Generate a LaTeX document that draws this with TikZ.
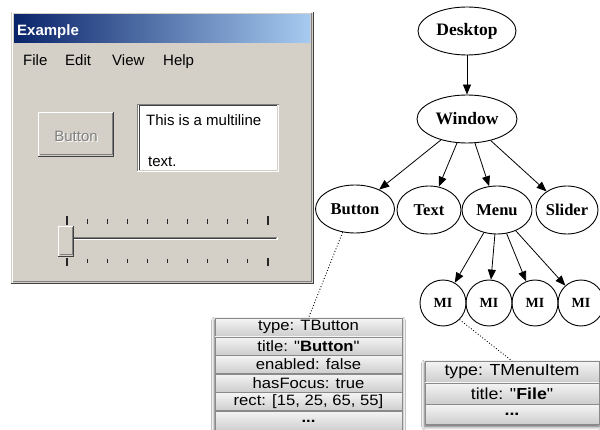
\documentclass[tikz,border=0pt]{standalone}
\usepackage{fontspec}
\usetikzlibrary{arrows.meta,shapes.geometric,shadows.blur,backgrounds}
\newfontfamily\guifont{Liberation Sans}
\newfontfamily\treefont{Liberation Serif}
\newfontfamily\tblfont[FakeStretch=1.11,Ligatures=TeXOff]{Liberation Sans}
\definecolor{winbg}{HTML}{D4D0C8}
\definecolor{edgedark}{HTML}{404040}
\definecolor{edgemid}{HTML}{808080}
\definecolor{titleL}{HTML}{0A246A}
\definecolor{titleR}{HTML}{A6CAF0}
\definecolor{rowtop}{HTML}{F4F4F4}
\definecolor{rowbot}{HTML}{CDCDCD}
\definecolor{rowline}{HTML}{8A8A8A}

\tikzset{
  treenode/.style={ellipse, draw, line width=0.9pt, inner sep=0pt, minimum height=48pt,
    font=\treefont\bfseries\fontsize{16.5}{16.5}\selectfont},
  topnode/.style={treenode, font=\treefont\bfseries\fontsize{17.5}{17.5}\selectfont},
  mitem/.style={circle, draw, line width=0.9pt, inner sep=0pt, minimum size=46pt,
    font=\treefont\bfseries\fontsize{14}{14}\selectfont},
  edge/.style={-{Triangle[length=10pt,width=8pt]}, line width=0.8pt},
  link/.style={dotted, line width=0.9pt},
  rowcell/.style={rectangle, draw=rowline, line width=0.6pt, top color=rowtop, bottom color=rowbot,
    inner sep=0pt, anchor=north},
  brow/.style={rowcell, minimum width=187pt, minimum height=18pt, font=\tblfont\fontsize{15}{15}\selectfont},
  mrow/.style={rowcell, minimum width=174pt, minimum height=21pt, font=\tblfont\fontsize{16}{16}\selectfont},
  gui/.style={inner sep=0pt, font=\guifont\fontsize{15}{15}\selectfont},
  tick/.style={line width=1.1pt, black!85},
}

\begin{document}
\begin{tikzpicture}[x=1pt, y=-1pt]
\useasboundingbox (0,0) rectangle (600,430);

% ---------- dialog window ----------
\fill[winbg] (11,12) rectangle (314,284);
\draw[white, line width=1pt] (12.5,283) -- (12.5,12.5) -- (313,12.5);
\draw[edgedark, line width=1.5pt] (11,283.5) -- (313.5,283.5) -- (313.5,12);
\draw[edgemid, line width=1pt] (13,281.5) -- (311.5,281.5) -- (311.5,13);
\shade[left color=titleL, right color=titleR] (14,15) rectangle (310,43);
\node[gui, anchor=base west, text=white, font=\guifont\bfseries\fontsize{15}{15}\selectfont] (title) at (17,36) {Example};

% menu bar
\node[gui, anchor=base west] (mfile) at (23,65.5) {File};
\node[gui, anchor=base west] (medit) at (65,65.5) {Edit};
\node[gui, anchor=base west] (mview) at (112,65.5) {View};
\node[gui, anchor=base west] (mhelp) at (163,65.5) {Help};

% disabled push button
\fill[winbg] (38,112) rectangle (114,157);
\draw[white, line width=1pt] (38.5,156) -- (38.5,112.5) -- (113,112.5);
\draw[edgedark, line width=1pt] (38,156.5) -- (113.5,156.5) -- (113.5,112);
\draw[edgemid, line width=1pt] (39.5,155) -- (112,155) -- (112,113.5);
\node[gui, anchor=base, text=white] at (77,143) {Button};
\node[gui, anchor=base, text=edgemid] (gbutton) at (76,142) {Button};

% multiline edit box
\fill[white] (137,104) rectangle (279,172);
\draw[edgemid, line width=1pt] (137.5,171.5) -- (137.5,104.5) -- (278.5,104.5);
\draw[edgedark, line width=1pt] (139,170) -- (139,106) -- (277,106);
\draw[winbg, line width=1pt] (139,170.5) -- (277.5,170.5) -- (277.5,106);
\node[gui, anchor=base west] (tline1) at (146,126) {This is a multiline};
\node[gui, anchor=base west] (tline2) at (148,166.5) {text.};

% slider groove and ticks
\draw[edgemid, line width=1pt] (73,237.5) -- (277,237.5);
\draw[edgedark, line width=1pt] (73,238.5) -- (276,238.5);
\draw[white, line width=1pt] (73,240) -- (277,240) -- (277,237);
\foreach \i in {0,...,10} {
  \pgfmathsetmacro{\tx}{67+20.1*\i}
  \ifnum\i=0 \draw[tick] (\tx,216.5) -- (\tx,225); \draw[tick] (\tx,258) -- (\tx,266.5);
  \else\ifnum\i=10 \draw[tick] (\tx,216.5) -- (\tx,225); \draw[tick] (\tx,258) -- (\tx,266.5);
  \else \draw[tick] (\tx,219.5) -- (\tx,224); \draw[tick] (\tx,259) -- (\tx,263.5);
  \fi\fi
}
% slider thumb
\fill[winbg] (58,226) rectangle (74,257);
\draw[white, line width=1pt] (58.5,256) -- (58.5,226.5) -- (73,226.5);
\draw[edgedark, line width=1pt] (58,256.5) -- (73.5,256.5) -- (73.5,226);
\draw[edgemid, line width=1pt] (59.5,255) -- (72,255) -- (72,227.5);

% ---------- widget tree ----------
\node[topnode, minimum width=98pt] (desktop) at (467,31) {Desktop};
\node[topnode, minimum width=100pt] (window) at (467,119) {Window};
\node[treenode, minimum width=79pt] (button) at (355,209) {Button};
\node[treenode, minimum width=64pt] (text) at (429,210) {Text};
\node[treenode, minimum width=70pt] (menu) at (497,210) {Menu};
\node[treenode, minimum width=62pt] (slider) at (567,210) {Slider};
\node[mitem] (mi1) at (443,303) {MI};
\node[mitem] (mi2) at (489,303) {MI};
\node[mitem] (mi3) at (535,303) {MI};
\node[mitem] (mi4) at (581,303) {MI};

\draw[edge] (desktop) -- (window);
\draw[edge] (window) -- (button);
\draw[edge] (window) -- (text);
\draw[edge] (window) -- (menu);
\draw[edge] (window) -- (slider);
\draw[edge] (menu) -- (mi1);
\draw[edge] (menu) -- (mi2);
\draw[edge] (menu) -- (mi3);
\draw[edge] (menu) -- (mi4);

% ---------- property tables ----------
\node[brow] (tb1) at (308.5,318) {type: TButton};
\node[brow] (tb2) at (tb1.south) {title: "\textbf{Button}"};
\node[brow] (tb3) at (tb2.south) {enabled: false};
\node[brow] (tb4) at (tb3.south) {hasFocus: true};
\node[brow] (tb5) at (tb4.south) {rect: [15, 25, 65, 55]};
\node[brow, minimum height=20pt] (tb6) at (tb5.south) {\textbf{...}};

\node[mrow] (mt1) at (512,361) {type: TMenuItem};
\node[mrow] (mt2) at (mt1.south) {title: "\textbf{File}"};
\node[mrow, minimum height=20pt] (mt3) at (mt2.south) {\textbf{...}};

\begin{scope}[on background layer]
  \fill[white] (0,0) rectangle (600,430);
  \path[fill=rowbot, blur shadow={shadow xshift=0pt, shadow yshift=-2pt, shadow blur radius=3pt, shadow opacity=60}]
    (tb1.north west) rectangle (tb6.south east);
  \path[fill=rowbot, blur shadow={shadow xshift=0pt, shadow yshift=-2pt, shadow blur radius=3pt, shadow opacity=60}]
    (mt1.north west) rectangle (mt3.south east);
\end{scope}

\draw[link] (button.242) -- (tb1.north);
\draw[link] (mi1.-45) -- (mt1.north);
\end{tikzpicture}
\end{document}
